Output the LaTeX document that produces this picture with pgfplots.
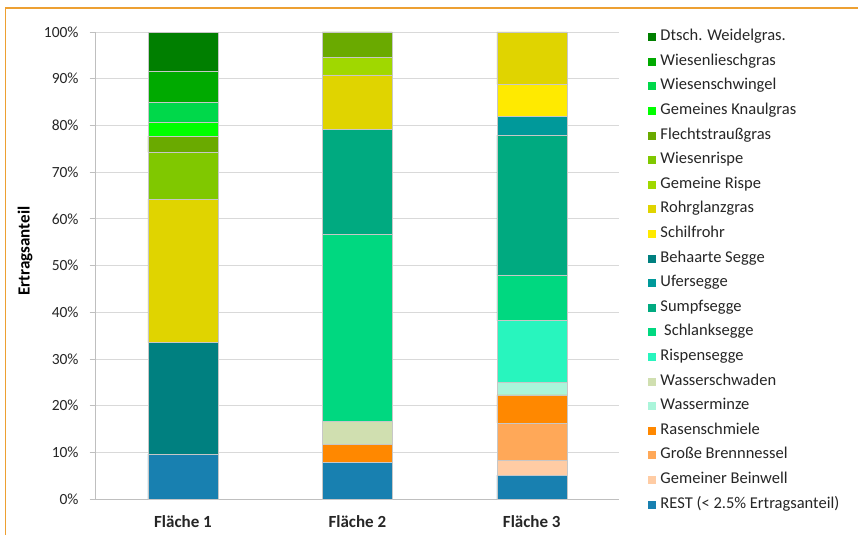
\documentclass[border=0pt]{standalone}
\usepackage{pgfplots}
\pgfplotsset{compat=1.18}
\usepackage{fontspec}
\setmainfont{Carlito}
\definecolor{cWeidel}{HTML}{007F00}
\definecolor{cLiesch}{HTML}{00AA00}
\definecolor{cSchwingel}{HTML}{00D84A}
\definecolor{cKnaul}{HTML}{00FF00}
\definecolor{cFlecht}{HTML}{6AAA00}
\definecolor{cWiesenrispe}{HTML}{80C800}
\definecolor{cGemRispe}{HTML}{A0D800}
\definecolor{cRohr}{HTML}{E0D400}
\definecolor{cSchilf}{HTML}{FFEA00}
\definecolor{cBehaart}{HTML}{008080}
\definecolor{cUfer}{HTML}{00999A}
\definecolor{cSumpf}{HTML}{00AA80}
\definecolor{cSchlank}{HTML}{00D880}
\definecolor{cRispens}{HTML}{28F5BE}
\definecolor{cSchwaden}{HTML}{D0DFB0}
\definecolor{cMinze}{HTML}{AAF5DA}
\definecolor{cRasen}{HTML}{FF8800}
\definecolor{cBrenn}{HTML}{FFA858}
\definecolor{cBeinwell}{HTML}{FFCCA4}
\definecolor{cRest}{HTML}{1880B0}
\definecolor{frameorange}{RGB}{237,160,50}
\definecolor{gridgray}{HTML}{D9D9D9}
\definecolor{axisgray}{HTML}{BFBFBF}
\begin{document}
\begin{tikzpicture}[x=1pt,y=1pt]
\useasboundingbox (0,0) rectangle (858,535);
\fill[white] (0,0) rectangle (858,535);
\draw[frameorange, line width=1.3pt] (5.5,0) -- (5.5,527) -- (858,527);
\begin{axis}[
  at={(95.75pt,36pt)}, anchor=south west,
  scale only axis, width=523.25pt, height=467pt,
  ybar stacked, bar width=70pt,
  xmin=-0.5, xmax=2.5, ymin=0, ymax=100,
  xtick={0,1,2}, xticklabels={Fläche 1, Fläche 2, Fläche 3},
  major x tick style={draw=none},
  extra x ticks={-0.5,0.5,1.5,2.5}, extra x tick labels={},
  extra x tick style={major tick length=6pt, tick align=outside, tick style={draw=axisgray}},
  ytick={0,10,...,100},
  yticklabel={\pgfmathprintnumber{\tick}\%},
  /pgf/number format/assume math mode=true,
  ymajorgrids, grid style={draw=gridgray, line width=0.6pt},
  axis lines*=left,
  axis line style={draw=axisgray, line width=0.6pt},
  tick align=outside, major tick length=6pt,
  tick style={draw=axisgray, line width=0.6pt},
  ticklabel style={font=\fontsize{15.5}{17}\selectfont, text=black!85},
  yticklabel style={anchor=east, inner sep=0pt, xshift=-11pt},
  xticklabel style={font=\fontsize{17}{19}\selectfont\bfseries, anchor=base, inner sep=0pt, yshift=-22pt},
  ylabel={Ertragsanteil},
  ylabel style={font=\fontsize{17}{19}\selectfont\bfseries, at={(axis description cs:-0.1352,0.531)}, anchor=center, rotate=0},
  every axis plot/.append style={draw=black!22, line width=0.4pt},
  reverse legend,
  legend cell align=left,
  legend style={at={(axis description cs:1.0554,1.0026)}, anchor=north west, draw=none, fill=none,
    inner sep=0pt, outer sep=0pt, row sep=11.6pt, column sep=4.5pt,
    font=\fontsize{16.5}{18}\selectfont,
    nodes={inner sep=0pt, text height=10pt, text depth=3pt, text=black!85}},
  legend image code/.code={\path[#1, draw=none] (0pt,-4pt) rectangle (8pt,4pt);},
]
\addplot[fill=cRest] coordinates {(0,9.6) (1,7.9) (2,5.1)};
\addlegendentry{REST (< 2.5\% Ertragsanteil)}
\addplot[fill=cBeinwell] coordinates {(0,0) (1,0) (2,3.3)};
\addlegendentry{Gemeiner Beinwell}
\addplot[fill=cBrenn] coordinates {(0,0) (1,0) (2,7.9)};
\addlegendentry{Große Brennnessel}
\addplot[fill=cRasen] coordinates {(0,0) (1,3.8) (2,6.0)};
\addlegendentry{Rasenschmiele}
\addplot[fill=cMinze] coordinates {(0,0) (1,0) (2,2.8)};
\addlegendentry{Wasserminze}
\addplot[fill=cSchwaden] coordinates {(0,0) (1,5.0) (2,0)};
\addlegendentry{Wasserschwaden}
\addplot[fill=cRispens] coordinates {(0,0) (1,0) (2,13.1)};
\addlegendentry{Rispensegge}
\addplot[fill=cSchlank] coordinates {(0,0) (1,40.0) (2,9.8)};
\addlegendentry{\ Schlanksegge}
\addplot[fill=cSumpf] coordinates {(0,0) (1,22.5) (2,29.9)};
\addlegendentry{Sumpfsegge}
\addplot[fill=cUfer] coordinates {(0,0) (1,0) (2,4.0)};
\addlegendentry{Ufersegge}
\addplot[fill=cBehaart] coordinates {(0,23.9) (1,0) (2,0)};
\addlegendentry{Behaarte Segge}
\addplot[fill=cSchilf] coordinates {(0,0) (1,0) (2,6.9)};
\addlegendentry{Schilfrohr}
\addplot[fill=cRohr] coordinates {(0,30.7) (1,11.6) (2,11.2)};
\addlegendentry{Rohrglanzgras}
\addplot[fill=cGemRispe] coordinates {(0,0) (1,3.7) (2,0)};
\addlegendentry{Gemeine Rispe}
\addplot[fill=cWiesenrispe] coordinates {(0,10.0) (1,0) (2,0)};
\addlegendentry{Wiesenrispe}
\addplot[fill=cFlecht] coordinates {(0,3.5) (1,5.5) (2,0)};
\addlegendentry{Flechtstraußgras}
\addplot[fill=cKnaul] coordinates {(0,2.9) (1,0) (2,0)};
\addlegendentry{Gemeines Knaulgras}
\addplot[fill=cSchwingel] coordinates {(0,4.3) (1,0) (2,0)};
\addlegendentry{Wiesenschwingel}
\addplot[fill=cLiesch] coordinates {(0,6.7) (1,0) (2,0)};
\addlegendentry{Wiesenlieschgras}
\addplot[fill=cWeidel] coordinates {(0,8.4) (1,0) (2,0)};
\addlegendentry{Dtsch. Weidelgras.}
\end{axis}
\end{tikzpicture}
\end{document}
